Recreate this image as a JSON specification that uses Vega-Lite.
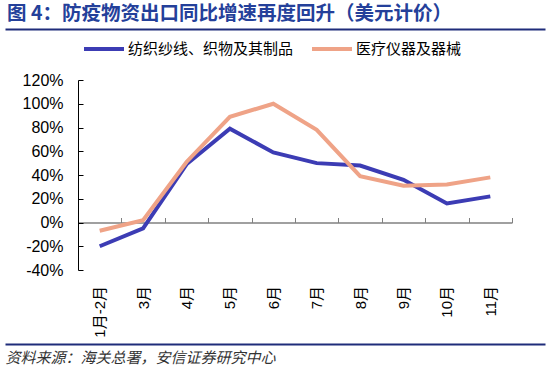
{
  "$schema": "https://vega.github.io/schema/vega-lite/v6.json",
  "width": 434,
  "height": 190,
  "autosize": "none",
  "padding": {"left": 78, "top": 80, "right": 38, "bottom": 100},
  "config": {"font": "Liberation Sans, Noto Sans CJK SC", "view": {"stroke": null}},
  "title": {
    "text": "图 4：防疫物资出口同比增速再度回升（美元计价）",
    "anchor": "start",
    "frame": "bounds",
    "font": "Noto Sans CJK SC",
    "fontSize": 19.5,
    "fontWeight": "bold",
    "color": "#24409A",
    "baseline": "alphabetic",
    "offset": -12.5,
    "dx": 2
  },
  "data": {
    "values": [
      {"month": "1月-2月", "series": "纺织纱线、织物及其制品", "value": -20},
      {"month": "3月", "series": "纺织纱线、织物及其制品", "value": -5},
      {"month": "4月", "series": "纺织纱线、织物及其制品", "value": 49},
      {"month": "5月", "series": "纺织纱线、织物及其制品", "value": 79},
      {"month": "6月", "series": "纺织纱线、织物及其制品", "value": 59},
      {"month": "7月", "series": "纺织纱线、织物及其制品", "value": 50},
      {"month": "8月", "series": "纺织纱线、织物及其制品", "value": 48},
      {"month": "9月", "series": "纺织纱线、织物及其制品", "value": 36},
      {"month": "10月", "series": "纺织纱线、织物及其制品", "value": 16},
      {"month": "11月", "series": "纺织纱线、织物及其制品", "value": 22},
      {"month": "1月-2月", "series": "医疗仪器及器械", "value": -7},
      {"month": "3月", "series": "医疗仪器及器械", "value": 2},
      {"month": "4月", "series": "医疗仪器及器械", "value": 51},
      {"month": "5月", "series": "医疗仪器及器械", "value": 89},
      {"month": "6月", "series": "医疗仪器及器械", "value": 100},
      {"month": "7月", "series": "医疗仪器及器械", "value": 78},
      {"month": "8月", "series": "医疗仪器及器械", "value": 39},
      {"month": "9月", "series": "医疗仪器及器械", "value": 31},
      {"month": "10月", "series": "医疗仪器及器械", "value": 32},
      {"month": "11月", "series": "医疗仪器及器械", "value": 38}
    ]
  },
  "layer": [
    {
      "mark": {"type": "line", "strokeWidth": 4},
      "encoding": {
        "x": {
          "field": "month",
          "type": "nominal",
          "sort": ["1月-2月", "3月", "4月", "5月", "6月", "7月", "8月", "9月", "10月", "11月"],
          "scale": {"type": "band", "paddingInner": 0, "paddingOuter": 0},
          "axis": {
            "orient": "bottom",
            "title": null,
            "offset": -47.5,
            "domainColor": "#808080",
            "domainWidth": 1.5,
            "tickColor": "#808080",
            "tickSize": -5,
            "tickBand": "extent",
            "labelAngle": -90,
            "labelPadding": 68,
            "labelFontSize": 15,
            "labelColor": "#000"
          }
        },
        "y": {
          "field": "value",
          "type": "quantitative",
          "scale": {"domain": [-40, 120], "nice": false, "zero": false},
          "axis": {
            "title": null,
            "values": [-40, -20, 0, 20, 40, 60, 80, 100, 120],
            "labelExpr": "datum.value + '%'",
            "grid": false,
            "domainColor": "#000",
            "tickColor": "#000",
            "tickSize": -5,
            "labelPadding": 20,
            "labelFontSize": 16,
            "labelColor": "#000"
          }
        },
        "color": {
          "field": "series",
          "type": "nominal",
          "scale": {
            "domain": ["纺织纱线、织物及其制品", "医疗仪器及器械"],
            "range": ["#3C3CB4", "#EFA387"]
          },
          "legend": {
            "title": null,
            "orient": "none",
            "direction": "horizontal",
            "legendX": 4,
            "legendY": -53,
            "symbolType": "stroke",
            "symbolSize": 1600,
            "symbolStrokeWidth": 4,
            "labelFont": "Noto Sans CJK SC",
            "labelFontSize": 15,
            "labelLimit": 400,
            "labelColor": "#000",
            "labelOffset": 2,
            "columnPadding": 10
          }
        }
      }
    },
    {
      "mark": {"type": "point", "opacity": 0},
      "encoding": {
        "x": {
          "field": "value",
          "type": "quantitative",
          "scale": {"domain": [-40, 120], "range": [-73, 467]},
          "axis": {
            "orient": "top",
            "offset": 51,
            "title": null,
            "labels": false,
            "ticks": false,
            "grid": false,
            "domainColor": "#1F2C7A",
            "domainWidth": 2
          }
        }
      }
    },
    {
      "mark": {"type": "point", "opacity": 0},
      "encoding": {
        "x": {
          "field": "value",
          "type": "quantitative",
          "scale": {"domain": [-40, 120], "range": [-73, 467]},
          "axis": {
            "orient": "bottom",
            "offset": 74,
            "title": "资料来源：海关总署，安信证券研究中心",
            "titleAnchor": "start",
            "titlePadding": 6,
            "titleFont": "Noto Sans CJK SC",
            "titleFontSize": 15,
            "titleFontStyle": "italic",
            "titleFontWeight": "normal",
            "titleColor": "#333333",
            "labels": false,
            "ticks": false,
            "grid": false,
            "domainColor": "#1F2C7A",
            "domainWidth": 2
          }
        }
      }
    }
  ],
  "resolve": {"scale": {"x": "independent"}, "axis": {"x": "independent"}}
}
